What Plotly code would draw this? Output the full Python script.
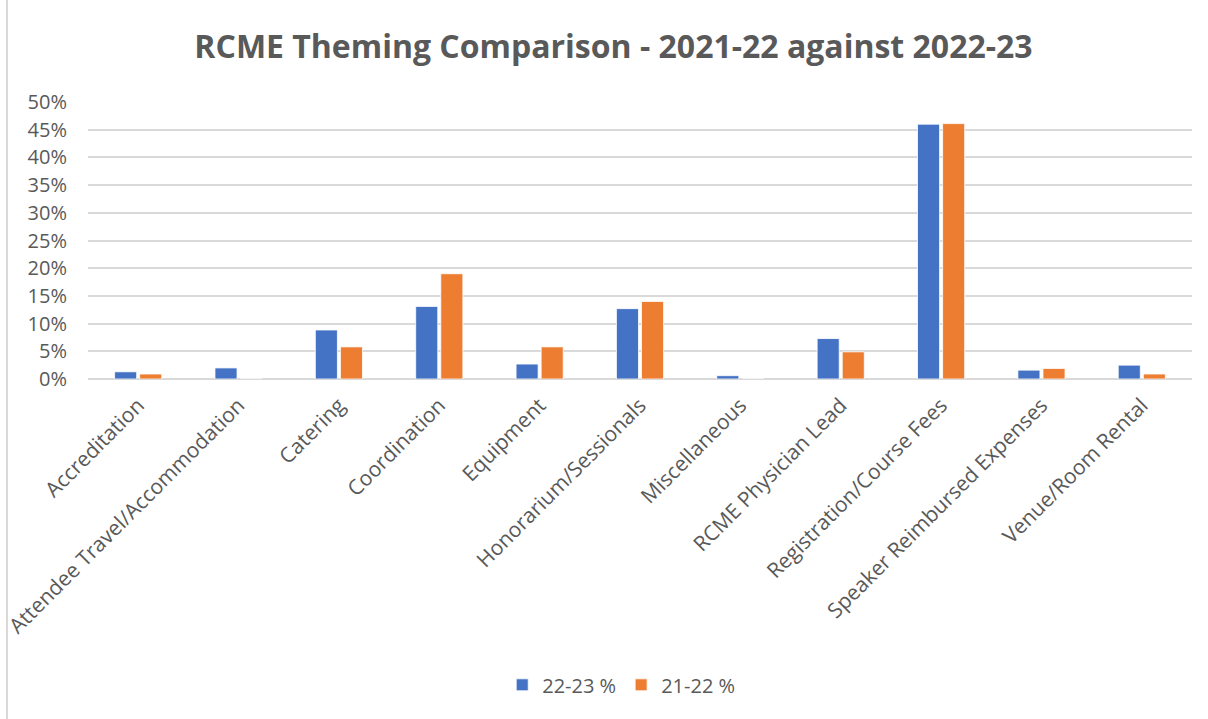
import plotly.graph_objects as go

categories = ["Accreditation", "Attendee Travel/Accommodation", "Catering", "Coordination",
              "Equipment", "Honorarium/Sessionals", "Miscellaneous", "RCME Physician Lead",
              "Registration/Course Fees", "Speaker Reimbursed Expenses", "Venue/Room Rental"]
s2223 = [1.3, 2.0, 8.85, 13.1, 2.7, 12.7, 0.6, 7.3, 46.0, 1.6, 2.5]
s2122 = [0.9, 0, 5.8, 19.0, 5.8, 14.0, 0, 4.9, 46.1, 1.9, 0.9]
yticks = [0, 5, 10, 15, 20, 25, 30, 35, 40, 45, 50]

FONT = "Open Sans"
GRAY = "#595959"

fig = go.Figure()
fig.add_trace(go.Bar(x=categories, y=s2223, name="22-23 %", marker_color="#4472C4",
                     marker_line_color="#FFFFFF", marker_line_width=0.8))
fig.add_trace(go.Bar(x=categories, y=s2122, name="21-22 %", marker_color="#ED7D31",
                     marker_line_color="#FFFFFF", marker_line_width=0.8))

fig.update_layout(
    width=1208, height=719,
    paper_bgcolor="white", plot_bgcolor="white",
    margin=dict(l=88, r=16, t=102, b=340, autoexpand=False),
    barmode="group", bargap=0.5, bargroupgap=0.12,
    title=dict(text="<b>RCME Theming Comparison - 2021-22 against 2022-23</b>",
               x=613.5 / 1208, xref="container", xanchor="center", y=1 - 47 / 719, yanchor="middle",
               font=dict(family=FONT, size=32, color=GRAY)),
    font=dict(family=FONT, color=GRAY),
    showlegend=True,
    legend=dict(orientation="h", x=0.483, xanchor="center", y=-1.104, yanchor="middle",
                font=dict(family=FONT, size=20, color=GRAY), itemwidth=30,
                traceorder="normal"),
    xaxis=dict(tickangle=-45, tickfont=dict(family=FONT, size=21, color=GRAY),
               showline=False, ticks="", showgrid=False, ticklabelstandoff=9),
    yaxis=dict(range=[0, 50], tickvals=yticks, ticktext=[f"{v}%" for v in yticks],
               tickfont=dict(family=FONT, size=20, color=GRAY),
               showgrid=True, gridcolor="#D9D9D9", gridwidth=1.5,
               zeroline=True, zerolinecolor="#D9D9D9", zerolinewidth=1.5,
               showline=False, ticks="", ticklabelstandoff=20),
    shapes=[dict(type="line", xref="paper", yref="paper", x0=(7 - 88) / 1104, x1=(7 - 88) / 1104,
                 y0=-2, y1=2, line=dict(color="#D9D9D9", width=2))],
)

fig.write_html("out.html")
